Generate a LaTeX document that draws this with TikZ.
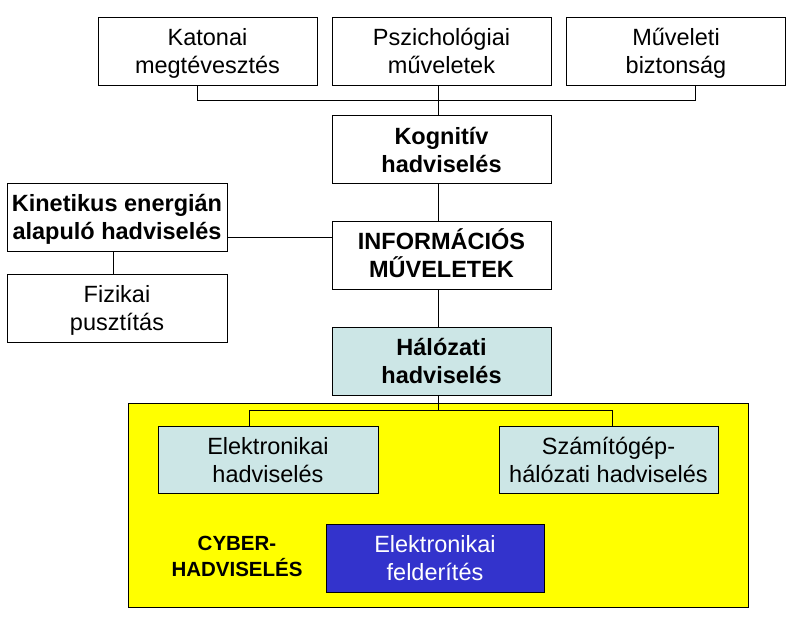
\documentclass[tikz,border=0pt]{standalone}
\usepackage{fontspec}
\setmainfont{Liberation Sans}
\usepackage{tikz}
\usetikzlibrary{positioning}
\definecolor{netcyan}{RGB}{204,230,230}
\definecolor{cyberyellow}{RGB}{255,255,0}
\definecolor{reconblue}{RGB}{51,51,204}
\newcommand{\boxfont}{\fontsize{23.5}{28}\selectfont}

\begin{document}
\begin{tikzpicture}[x=1pt,y=-1pt,line width=0.9pt,
  box/.style={draw,fill=white,minimum width=219pt,minimum height=68pt,
    inner sep=0pt,align=center,font=\boxfont,text height=50pt,text depth=4.6pt},
  boldbox/.style={box,font=\boxfont\bfseries},
  netbox/.style={box,fill=netcyan},
  reconbox/.style={box,fill=reconblue,text=white}]
  \useasboundingbox (0,0) rectangle (798,627);
  % cyber region
  \node[draw,fill=cyberyellow,minimum width=620pt,minimum height=204pt,inner sep=0pt]
    (cyberzone) at (438,505) {};
  \node[font=\fontsize{20.5}{26}\selectfont\bfseries,align=center] (cyberlabel) at (237,556)
    {CYBER-\\HADVISELÉS};
  % top row
  \node[box] (katonai) at (207.5,51) {Katonai\\megtévesztés};
  \node[box] (pszich) at (441.5,51) {Pszichológiai\\műveletek};
  \node[box] (muveleti) at (676,51) {Műveleti\\biztonság};
  % centre column
  \node[boldbox] (kognitiv) at (441.5,149.5) {Kognitív\\hadviselés};
  \node[boldbox] (info) at (441.5,255) {INFORMÁCIÓS\\MŰVELETEK};
  \node[boldbox,fill=netcyan] (halozati) at (441.5,361) {Hálózati\\hadviselés};
  % left column
  \node[boldbox,minimum width=220pt] (kinetikus) at (117,217) {Kinetikus energián\\alapuló hadviselés};
  \node[box,minimum width=220pt] (fizikai) at (117,308) {Fizikai\\pusztítás};
  % inside the cyber region
  \node[netbox,minimum width=220pt,minimum height=67pt] (elektr) at (268,459.5) {Elektronikai\\hadviselés};
  \node[netbox,minimum height=67pt] (szamito) at (608.5,459.5) {Számítógép-\\hálózati hadviselés};
  \node[reconbox,minimum width=218pt] (felderites) at (435,558) {Elektronikai\\felderítés};
  % connectors
  \coordinate (kinbus) at (280,237);
  \draw ([xshift=-10.5pt]katonai.south) -- ++(0,15) -| ([xshift=19pt]muveleti.south);
  \draw ([xshift=-3.5pt]pszich.south) -- ([xshift=-3.5pt]kognitiv.north);
  \draw ([xshift=-3.5pt]kognitiv.south) -- ([xshift=-3.5pt]info.north);
  \draw (kinetikus.east |- kinbus) -- (info.west |- kinbus);
  \draw ([xshift=-4pt]kinetikus.south) -- ([xshift=-4pt]fizikai.north);
  \draw ([xshift=-3.5pt]info.south) -- ([xshift=-3.5pt]halozati.north);
  \draw ([xshift=-3pt]halozati.south) -- ++(0,15) -| ([xshift=-19pt]elektr.north);
  \draw ([xshift=-3pt]halozati.south) -- ++(0,15) -| ([xshift=3.5pt]szamito.north);
\end{tikzpicture}
\end{document}
